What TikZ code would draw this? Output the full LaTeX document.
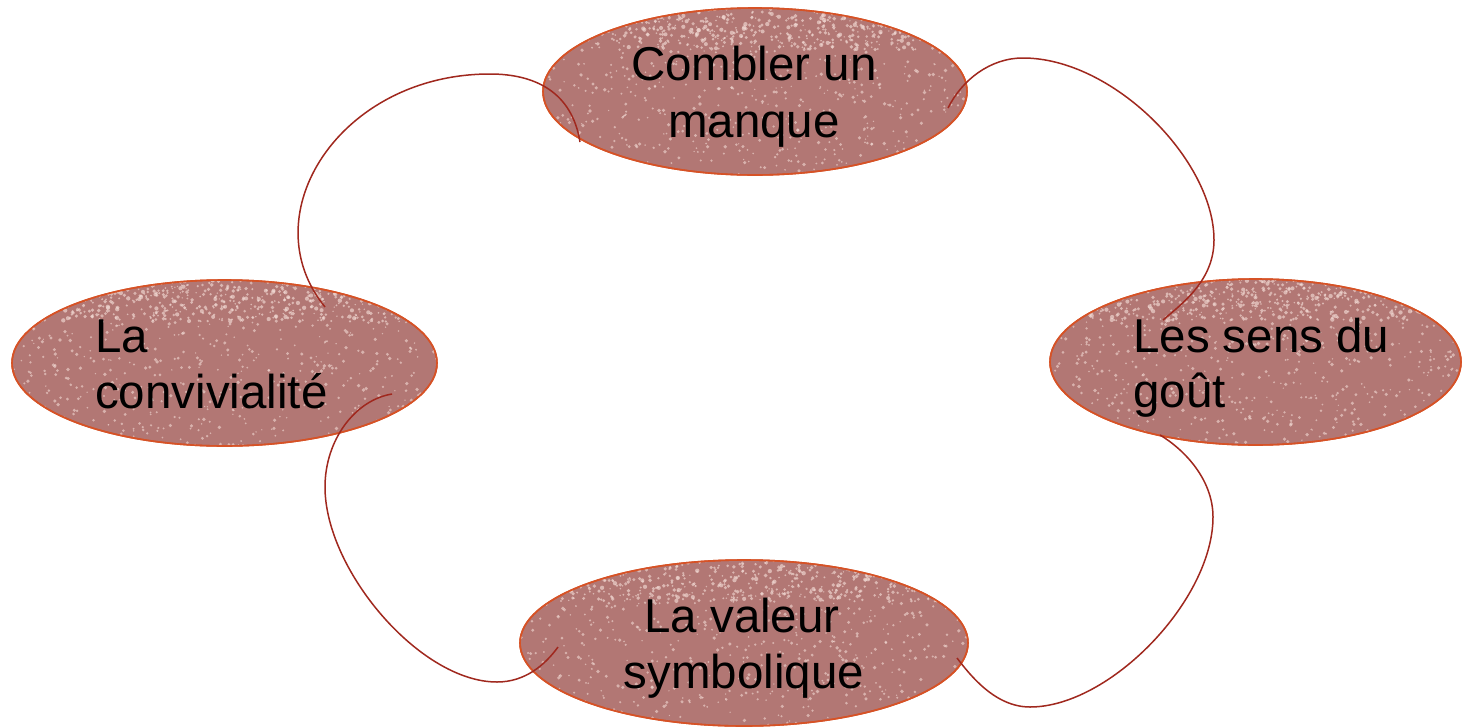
\documentclass[tikz,border=0pt]{standalone}
\usepackage{fontspec}
\setmainfont{Liberation Sans}
\usetikzlibrary{shapes.geometric,calc}
\definecolor{ellfill}{RGB}{178,119,116}
\definecolor{ellborder}{RGB}{214,82,38}
\definecolor{connred}{RGB}{160,40,30}
\definecolor{speck}{RGB}{242,218,212}
\tikzset{
  ell/.style={ellipse, draw=ellborder, line width=1.6pt, fill=ellfill, inner sep=0pt},
  conn/.style={draw=connred, line width=1.5pt},
  lbl/.style={inner sep=0pt, font=\fontsize{47.5}{57}\selectfont, text=black},
}
\newcommand{\speckle}[3]{% node, rx, ry
  \begin{scope}
    \clip (#1.center) ellipse [x radius=#2, y radius=#3];
    \foreach \i in {1,...,650} {
      \fill[speck, opacity=0.6] ($(#1.center)+({rand*#2},{rand*#3})$) circle ({0.7+rnd*1.2});
    }
    \foreach \i in {1,...,500} {
      \fill[speck, opacity=0.65] ($(#1.center)+({rand*#2},{-#3+rnd*0.5*#3})$) circle ({0.7+rnd*1.5});
    }
  \end{scope}
  \draw[ellborder, line width=1.6pt] (#1.center) ellipse [x radius=#2, y radius=#3];
}
\begin{document}
\begin{tikzpicture}[x=1pt,y=-1pt]
\pgfmathsetseed{1234}
\useasboundingbox (0,0) rectangle (1462,726);
\fill[white] (0,0) rectangle (1462,726);

% ellipses
\node[ell, minimum width=424pt, minimum height=167pt] (top) at (755,91.5) {};
\node[ell, minimum width=425pt, minimum height=166pt] (left) at (224.5,363) {};
\node[ell, minimum width=411pt, minimum height=166pt] (right) at (1255.5,362) {};
\node[ell, minimum width=448pt, minimum height=166pt] (bottom) at (744,643) {};

\speckle{top}{212}{83.5}
\speckle{left}{212.5}{83}
\speckle{right}{205.5}{83}
\speckle{bottom}{224}{83}

% labels
\node[lbl, anchor=base] (t1) at (754,80) {Combler un};
\node[lbl, anchor=base] (t2) at (754,137) {manque};
\node[lbl, anchor=base west] (l1) at (95,352) {La};
\node[lbl, anchor=base west] (l2) at (95,408) {convivialité};
\node[lbl, anchor=base west] (r1) at (1133,352) {Les sens du};
\node[lbl, anchor=base west] (r2) at (1133,407) {goût};
\node[lbl, anchor=base] (b1) at (742,632) {La valeur};
\node[lbl, anchor=base] (b2) at (744,688) {symbolique};

% connector end points
\coordinate (c1s) at ($(top.center)+(-175,50.5)$);
\coordinate (c1e) at ($(left.center)+(100.5,-56)$);
\coordinate (c2s) at ($(top.center)+(193,16.5)$);
\coordinate (c2e) at ($(right.center)+(-92.5,-42)$);
\coordinate (c3s) at ($(right.center)+(-95.5,73)$);
\coordinate (c3e) at ($(bottom.center)+(213,15)$);
\coordinate (c4s) at ($(left.center)+(167.5,31)$);
\coordinate (c4e) at ($(bottom.center)+(-186,4)$);

% connectors
\draw[conn] (c1s) .. controls (572,92) and (535,74) .. (490,74)
                  .. controls (340,74) and (250,215) .. (c1e);
\draw[conn] (c2s) .. controls (962,80) and (990,58) .. (1023,58)
                  .. controls (1113,58) and (1214,160) .. (1214,240)
                  .. controls (1214,280) and (1183,303) .. (c2e);
\draw[conn] (c3s) .. controls (1185,450) and (1213,480) .. (1213,517)
                  .. controls (1213,600) and (1110,707) .. (1030,707)
                  .. controls (995,707) and (970,675) .. (c3e);
\draw[conn] (c4s) .. controls (355,400) and (325,440) .. (325,487)
                  .. controls (325,570) and (420,682) .. (497,682)
                  .. controls (525,682) and (545,665) .. (c4e);
\end{tikzpicture}
\end{document}
